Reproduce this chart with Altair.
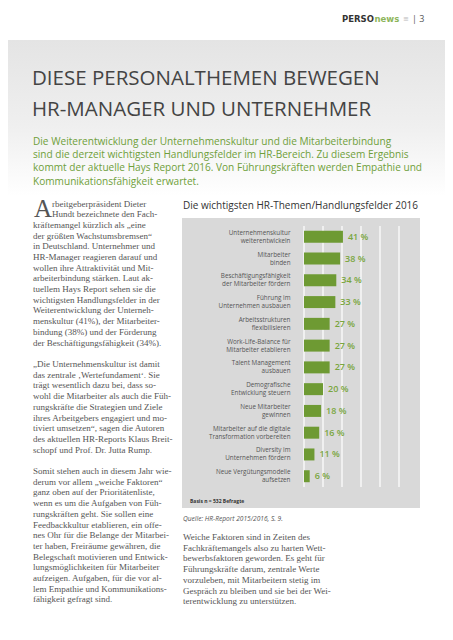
import altair as alt
import pandas as pd

# ---------------- data ----------------
categories = [
    "Unternehmenskultur\nweiterentwickeln",
    "Mitarbeiter\nbinden",
    "Beschäftigungsfähigkeit\nder Mitarbeiter fördern",
    "Führung im\nUnternehmen ausbauen",
    "Arbeitsstrukturen\nflexibilisieren",
    "Work-Life-Balance für\nMitarbeiter etablieren",
    "Talent Management\nausbauen",
    "Demografische\nEntwicklung steuern",
    "Neue Mitarbeiter\ngewinnen",
    "Mitarbeiter auf die digitale\nTransformation vorbereiten",
    "Diversity im\nUnternehmen fördern",
    "Neue Vergütungsmodelle\naufsetzen",
]
values = [41, 38, 34, 33, 27, 27, 27, 20, 18, 16, 11, 6]
x_ticks = [0, 20, 40, 60, 80, 100]

chart_title = "Die wichtigsten HR-Themen/Handlungsfelder 2016"
basis_note = "Basis n = 532 Befragte"
source_note = "Quelle: HR-Report 2015/2016, S. 9."

page_title = ["DIESE PERSONALTHEMEN BEWEGEN", "HR-MANAGER UND UNTERNEHMER"]
intro = [
    "Die Weiterentwicklung der Unternehmenskultur und die Mitarbeiterbindung",
    "sind die derzeit wichtigsten Handlungsfelder im HR-Bereich. Zu diesem Ergebnis",
    "kommt der aktuelle Hays Report 2016. Von Führungskräften werden Empathie und",
    "Kommunikationsfähigkeit erwartet.",
]
drop_cap = "A"
col1_first = ["rbeitgeberpräsident Dieter", "Hundt bezeichnete den Fach-"]
col1_p1 = [
    "kräftemangel kürzlich als „eine",
    "der größten Wachstumsbremsen“",
    "in Deutschland. Unternehmer und",
    "HR-Manager reagieren darauf und",
    "wollen ihre Attraktivität und Mit-",
    "arbeiterbindung stärken. Laut ak-",
    "tuellem Hays Report sehen sie die",
    "wichtigsten Handlungsfelder in der",
    "Weiterentwicklung der Unterneh-",
    "menskultur (41%), der Mitarbeiter-",
    "bindung (38%) und der Förderung",
    "der Beschäftigungsfähigkeit (34%).",
]
col1_p2 = [
    "„Die Unternehmenskultur ist damit",
    "das zentrale ‚Wertefundament‘. Sie",
    "trägt wesentlich dazu bei, dass so-",
    "wohl die Mitarbeiter als auch die Füh-",
    "rungskräfte die Strategien und Ziele",
    "ihres Arbeitgebers engagiert und mo-",
    "tiviert umsetzen“, sagen die Autoren",
    "des aktuellen HR-Reports Klaus Breit-",
    "schopf und Prof. Dr. Jutta Rump.",
]
col1_p3 = [
    "Somit stehen auch in diesem Jahr wie-",
    "derum vor allem „weiche Faktoren“",
    "ganz oben auf der Prioritätenliste,",
    "wenn es um die Aufgaben von Füh-",
    "rungskräften geht. Sie sollen eine",
    "Feedbackkultur etablieren, ein offe-",
    "nes Ohr für die Belange der Mitarbei-",
    "ter haben, Freiräume gewähren, die",
    "Belegschaft motivieren und Entwick-",
    "lungsmöglichkeiten für Mitarbeiter",
    "aufzeigen. Aufgaben, für die vor al-",
    "lem Empathie und Kommunikations-",
    "fähigkeit gefragt sind.",
]
col2_text = [
    "Weiche Faktoren sind in Zeiten des",
    "Fachkräftemangels also zu harten Wett-",
    "bewerbsfaktoren geworden. Es geht für",
    "Führungskräfte darum, zentrale Werte",
    "vorzuleben, mit Mitarbeitern stetig im",
    "Gespräch zu bleiben und sie bei der Wei-",
    "terentwicklung zu unterstützen.",
]

# ---------------- layout (page pixels) ----------------
X0, Y0 = 304, 226          # plot origin on the page
W, H = 95, 261             # plot size
def px(x):
    return x - X0
def py(y):
    return y - Y0

GREEN = "#6e9a33"
LABEL_GREEN = "#79a63e"
PANEL = "#d9d9d9"
TEXT = "#555555"
LH = 10.7
TOP = 203.5

df = pd.DataFrame({"cat": categories, "val": values})
df["lbl"] = df["val"].astype(str) + " %"
ticks_df = pd.DataFrame({"t": x_ticks})
one = alt.Data(values=[{"k": 0}])

xscale = alt.Scale(domain=[0, 100])
yscale = alt.Scale(domain=categories, paddingInner=0.45, paddingOuter=0.22)

def text_layer(lines, x, y, size, font, color="#555555", weight="normal",
               style="normal", lh=None, align="left"):
    # y is the centre of the first line
    return alt.Chart(one).mark_text(
        text=lines, align=align, baseline="middle", font=font, fontSize=size,
        fontWeight=weight, fontStyle=style, color=color,
        lineHeight=lh if lh else size * 1.2,
    ).encode(x=alt.value(px(x)), y=alt.value(py(y)))

band = alt.Chart(one).mark_rect(
    color=alt.Gradient(gradient="linear", x1=0, y1=0, x2=0, y2=1,
                       stops=[alt.GradientStop(color="#e4e4e4", offset=0),
                              alt.GradientStop(color="#efefef", offset=0.55),
                              alt.GradientStop(color="#ffffff", offset=1)])
).encode(x=alt.value(px(8)), x2=alt.value(px(445)),
         y=alt.value(py(40)), y2=alt.value(py(196)))

panel = alt.Chart(one).mark_rect(color=PANEL).encode(
    x=alt.value(px(182)), x2=alt.value(px(420)),
    y=alt.value(py(218)), y2=alt.value(py(508)))

grid = alt.Chart(ticks_df).mark_rule(color="white", strokeWidth=1.2).encode(
    x=alt.X("t:Q", scale=xscale, axis=None),
    y=alt.value(0), y2=alt.value(H))

bars = alt.Chart(df).mark_bar(color=GREEN).encode(
    x=alt.X("val:Q", scale=xscale,
            axis=alt.Axis(values=x_ticks, labelExpr="datum.value + '%'",
                          title=None, grid=False, domain=False, ticks=False,
                          labelFont="Open Sans", labelFontSize=5.5,
                          labelColor="#444444", labelPadding=4, zindex=1)),
    y=alt.Y("cat:N", scale=yscale, sort=categories,
            axis=alt.Axis(title=None, domain=False, ticks=False,
                          labelExpr="split(datum.value, '\\n')",
                          labelFont="Open Sans", labelFontSize=6.3,
                          labelLineHeight=8, labelOffset=-4,
                          labelColor="#555555",
                          labelPadding=14, labelLimit=0, zindex=1)),
)

pct = alt.Chart(df).mark_text(
    align="left", baseline="middle", dx=5, font="Open Sans",
    fontSize=9, fontWeight=600, color=LABEL_GREEN,
).encode(x=alt.X("val:Q", scale=xscale), y=alt.Y("cat:N", scale=yscale, sort=categories),
         text="lbl:N")

layers = [
    band, panel, grid, bars, pct,
    # header
    text_layer(["PERSO"], 342, 19, 8.5, "DejaVu Sans", "#333333", "bold"),
    text_layer(["news"], 374.5, 19, 8.5, "DejaVu Sans", "#8db55a", "bold"),
    text_layer(["≡"], 403, 19, 7, "DejaVu Sans", "#bbbbbb"),
    text_layer(["| 3"], 412, 19, 9, "Open Sans", "#555555"),
    # title + intro
    text_layer(page_title, 32, 78.5, 20.5, "Open Sans", "#444444", lh=31.6),
    text_layer(intro, 33, 141.5, 10.1, "Open Sans", "#6f9f3a", lh=13.4),
    # chart texts
    text_layer([chart_title], 183, 206, 10.0, "Open Sans", "#333333"),
    text_layer([basis_note], 190, 501, 5, "Open Sans", "#333333", "bold"),
    text_layer([source_note], 183, 519, 6.6, "Open Sans", TEXT, style="italic"),
    # left column
    text_layer([drop_cap], 34, 209, 25, "Liberation Serif", "#555555"),
    text_layer(col1_first, 52, TOP, 9, "Liberation Serif", TEXT, lh=LH),
    text_layer(col1_p1, 33, TOP + 2 * LH, 9, "Liberation Serif", TEXT, lh=LH),
    text_layer(col1_p2, 33, TOP + 15 * LH, 9, "Liberation Serif", TEXT, lh=LH),
    text_layer(col1_p3, 33, TOP + 25 * LH, 9, "Liberation Serif", TEXT, lh=LH),
    # right column
    text_layer(col2_text, 183, 537, 9, "Liberation Serif", TEXT, lh=LH),
]

chart = alt.layer(*layers).properties(
    width=W, height=H,
    autosize=alt.AutoSizeParams(type="none"),
    padding={"left": X0 - 8, "top": Y0 - 8, "right": 437 - (X0 - 8) - W,
             "bottom": 624 - (Y0 - 8) - H},
).configure_view(stroke=None).configure(background="white")

chart.save("out.html", embed_options={"renderer": "svg", "actions": False})
